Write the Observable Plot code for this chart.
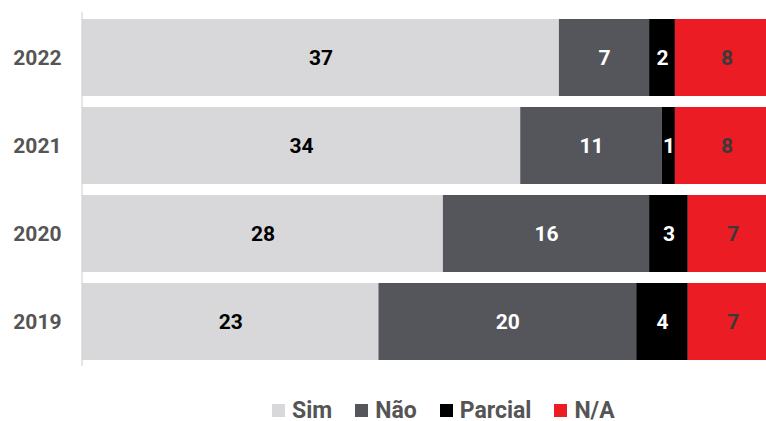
<!DOCTYPE html>
<html><head><meta charset="utf-8">
<script src="https://cdn.jsdelivr.net/npm/d3@7"></script>
<script src="https://cdn.jsdelivr.net/npm/@observablehq/plot@0.6"></script>
<style>
body{margin:0;background:#fff;font-family:Roboto,sans-serif;overflow:hidden;width:766px;}
#legend{display:flex;align-items:center;margin-top:17px;padding-left:272px;font:bold 23px Roboto,sans-serif;color:#555;white-space:nowrap;}
#legend span.sw{display:inline-block;width:13px;height:13px;margin-right:7px;}
#legend span.it{display:flex;align-items:center;margin-right:23px;}
</style></head>
<body>
<div id="chart"></div>
<div id="legend"></div>
<script>
const years = ["2022","2021","2020","2019"];
const categories = ["Sim","Não","Parcial","N/A"];
const sim = [37,34,28,23];
const nao = [7,11,16,20];
const parcial = [2,1,3,4];
const na = [8,8,7,7];
const colors = ["#d8d8da","#55565b","#000000","#ec1c24"];
const labelColors = ["#000000","#ffffff","#ffffff","#3a3a3a"];

const series = [sim, nao, parcial, na];
const data = [];
years.forEach((y,i)=>categories.forEach((c,j)=>data.push({year:y, cat:c, value:series[j][i]})));

const plot = Plot.plot({
  width: 766, height: 380,
  marginTop: 12, marginBottom: 14, marginLeft: 82, marginRight: 0,
  style: {fontFamily: "Roboto, sans-serif", overflow: "hidden"},
  x: {domain: [0, 54], range: [82, 778], axis: null},
  y: {domain: years, paddingInner: 0.13, paddingOuter: 0.065, label: null, tickSize: 0, tickPadding: 21},
  color: {domain: categories, range: colors},
  marks: [
    Plot.barX(data, Plot.stackX({x: "value", y: "year", z: "cat", fill: "cat", order: categories})),
    Plot.textX(data, Plot.stackX({x: "value", y: "year", z: "cat", order: categories, text: d => String(d.value),
      fill: d => labelColors[categories.indexOf(d.cat)], fontSize: 21, fontWeight: "bold"})),
    Plot.ruleX([0], {stroke: "#cccccc", dx: -0.5}),
    Plot.axisY({tickSize: 0, tickPadding: 21, fontSize: 21, fontWeight: "bold", fill: "#555555", label: null})
  ]
});
document.getElementById("chart").appendChild(plot);

const lg = document.getElementById("legend");
categories.forEach((c,i)=>{
  const it = document.createElement("span"); it.className="it";
  const sw = document.createElement("span"); sw.className="sw"; sw.style.background=colors[i];
  it.appendChild(sw); it.appendChild(document.createTextNode(c));
  lg.appendChild(it);
});
</script>
</body></html>
